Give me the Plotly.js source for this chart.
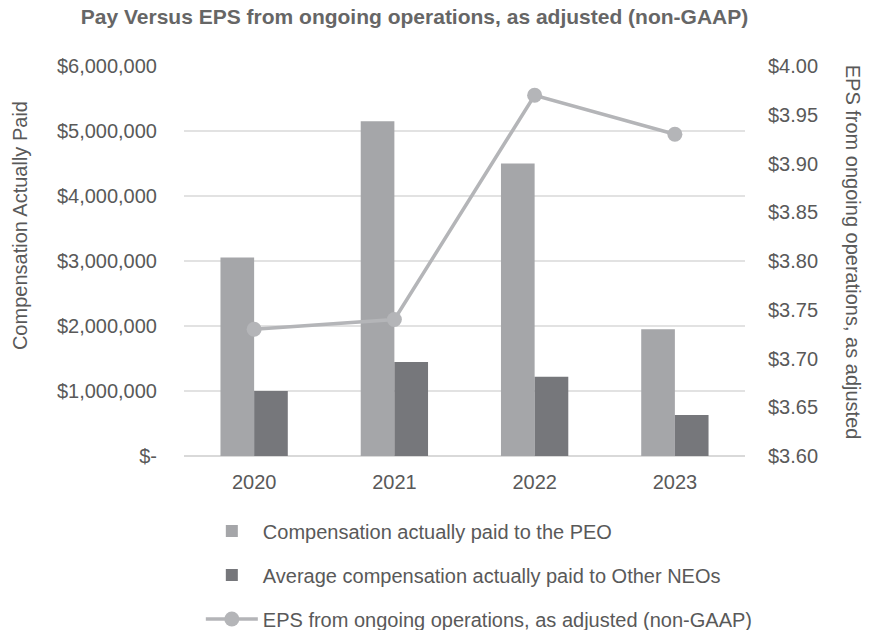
<!DOCTYPE html>
<html><head><meta charset="utf-8">
<script src="https://cdn.plot.ly/plotly-3.0.1.min.js"></script>
<style>body{margin:0;background:#fff}#chart{width:869px;height:630px}</style>
</head><body><div id="chart"></div>
<script>
const years = ['2020', '2021', '2022', '2023'];
const peoCAP = [3055000, 5150000, 4500000, 1950000];
const neoCAP = [1000000, 1445000, 1220000, 630000];
const eps = [3.73, 3.74, 3.97, 3.93];
const leftTickVals = [0, 1000000, 2000000, 3000000, 4000000, 5000000, 6000000];
const leftTickText = ['$-', '$1,000,000', '$2,000,000', '$3,000,000', '$4,000,000', '$5,000,000', '$6,000,000'];
const seriesNames = ['Compensation actually paid to the PEO', 'Average compensation actually paid to Other NEOs', 'EPS from ongoing operations, as adjusted (non-GAAP)'];

const font = 'Liberation Sans, Arial, sans-serif';
const txt = '#595959';
const traces = [
  {type: 'bar', x: years, y: peoCAP, name: seriesNames[0], marker: {color: '#a5a6a9'}, legendgroup: 'a', yaxis: 'y'},
  {type: 'bar', x: years, y: neoCAP, name: seriesNames[1], marker: {color: '#76777b'}, legendgroup: 'b', yaxis: 'y'},
  {type: 'scatter', mode: 'lines+markers', x: years, y: eps, name: seriesNames[2], yaxis: 'y2', legendgroup: 'c',
   line: {color: '#b4b5b8', width: 3.5}, marker: {color: '#b4b5b8', size: 15}}
];
const layout = {
  width: 869, height: 630,
  margin: {l: 184, r: 124, t: 66, b: 174, autoexpand: false},
  paper_bgcolor: '#fff', plot_bgcolor: '#fff',
  font: {family: font, size: 20, color: txt},
  title: {text: '<b>Pay Versus EPS from ongoing operations, as adjusted (non-GAAP)</b>', x: 0.477, xanchor: 'center', y: 0.973, yanchor: 'middle',
          font: {family: font, size: 21, color: '#666666'}},
  barmode: 'group', bargap: 0.52, bargroupgap: 0,
  xaxis: {type: 'category', showgrid: false, showline: false, zeroline: false, ticks: '', ticklabelstandoff: 12,
          tickfont: {size: 20, color: txt}},
  yaxis: {range: [0, 6000000], tickvals: leftTickVals, ticktext: leftTickText, showgrid: true, gridcolor: '#e2e2e2', gridwidth: 1.5,
          zeroline: true, zerolinecolor: '#d9d9d9', zerolinewidth: 1.5, showline: false, ticks: '', ticklabelstandoff: 26,
          tickfont: {size: 20, color: txt}},
  yaxis2: {range: [3.6, 4.0], dtick: 0.05, tickformat: '$.2f', overlaying: 'y', side: 'right', showgrid: false, zeroline: false,
           showline: false, ticks: '', ticklabelstandoff: 22, tickfont: {size: 20, color: txt}},
  showlegend: true,
  legend: {x: 0.03, xanchor: 'left', yref: 'container', y: 0.188, yanchor: 'top', orientation: 'v', traceorder: 'grouped', tracegroupgap: 15,
           itemwidth: 52, font: {size: 20, color: txt}, bgcolor: 'rgba(0,0,0,0)'},
  annotations: [
    {text: 'Compensation Actually Paid', xref: 'paper', yref: 'paper', x: -0.292, y: 0.59, textangle: -90, showarrow: false,
     xanchor: 'center', yanchor: 'middle', font: {size: 20, color: txt}},
    {text: 'EPS from ongoing operations, as adjusted', xref: 'paper', yref: 'paper', x: 1.192, y: 0.522, textangle: 90, showarrow: false,
     xanchor: 'center', yanchor: 'middle', font: {size: 20, color: txt}}
  ]
};
Plotly.newPlot('chart', traces, layout, {displayModeBar: false, staticPlot: true});
</script></body></html>
